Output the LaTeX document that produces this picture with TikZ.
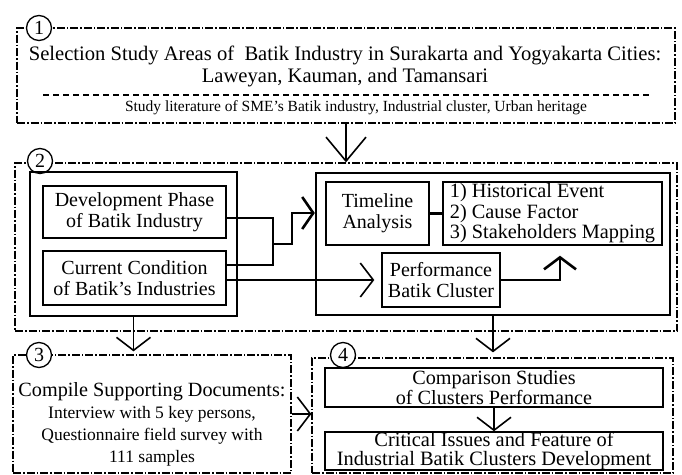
\documentclass[tikz,border=0pt]{standalone}
\usepackage{fontspec}
\setmainfont{Liberation Serif}
\usetikzlibrary{arrows.meta}
\begin{document}
\begin{tikzpicture}[x=1pt,y=-1pt,
  outer/.style={draw, line width=1.3pt, dash pattern=on 8pt off 2pt on 1.5pt off 2pt, inner sep=0pt},
  frame/.style={draw, line width=2.4pt, inner sep=0pt},
  box/.style={draw, line width=1.4pt, inner sep=0pt, align=center, font=\fontsize{20}{21}\selectfont},
  num/.style={circle, draw, fill=white, line width=1.3pt, minimum size=25pt, inner sep=0pt, font=\fontsize{20}{20}\selectfont},
  conn/.style={line width=1.5pt},
  thickconn/.style={line width=2.6pt},
  arr/.style={line width=1.6pt, -{Straight Barb[length=13pt,width=34pt]}},
  bigarr/.style={line width=1.6pt, -{Straight Barb[length=24pt,width=40pt]}}
]
\useasboundingbox (0,0) rectangle (682,474);
% ---------- box 1
\node[outer, minimum width=658pt, minimum height=95pt] (box1) at (346,75.5) {};
\node[num] (n1) at (39,28) {1};
\node[font=\fontsize{20.6}{22}\selectfont, align=center] (title) at (345,66)
  {Selection Study Areas of\ \ Batik Industry in Surakarta and Yogyakarta Cities:\\Laweyan, Kauman, and Tamansari};
\coordinate (sepL) at (43,95);
\coordinate (sepR) at (650,95);
\draw[line width=1.6pt, dash pattern=on 6pt off 4pt] (sepL) -- (sepR);
\node[font=\fontsize{15.5}{17}\selectfont] (lit) at (356,108)
  {Study literature of SME’s Batik industry, Industrial cluster, Urban heritage};
% ---------- box 2
\node[outer, minimum width=662pt, minimum height=168pt] (box2) at (346,247) {};
\node[num] (n2) at (40,161) {2};
\node[frame, minimum width=207pt, minimum height=144pt] (inL) at (133.5,244) {};
\node[box, minimum width=183pt, minimum height=52pt] (dev) at (134.5,212) {Development Phase\\of Batik Industry};
\node[box, minimum width=183pt, minimum height=54pt] (cur) at (134.5,278) {Current Condition\\of Batik’s Industries};
\node[frame, minimum width=354pt, minimum height=142pt] (inR) at (493,244) {};
\node[box, minimum width=103pt, minimum height=63pt] (time) at (377.5,213.5) {Timeline\\Analysis};
\node[box, minimum width=219pt, minimum height=63pt, align=left, font=\fontsize{20.3}{20.5}\selectfont] (list) at (552.5,213.5)
  {1) Historical Event\\2) Cause Factor\\3) Stakeholders Mapping};
\node[box, minimum width=118pt, minimum height=54pt] (perf) at (441,280) {Performance\\Batik Cluster};
% ---------- box 3
\node[outer, minimum width=278pt, minimum height=118pt] (box3) at (152,414) {};
\node[num] (n3) at (39,355) {3};
\node[align=center, font=\fontsize{17.5}{22}\selectfont] (t3) at (152,424)
  {{\fontsize{20.2}{24}\selectfont Compile Supporting Documents:}\\Interview with 5 key persons,\\Questionnaire field survey with\\111 samples};
% ---------- box 4
\node[outer, minimum width=361pt, minimum height=115pt] (box4) at (492.5,415.5) {};
\node[num] (n4) at (343,355) {4};
\node[box, line width=1.3pt, minimum width=338pt, minimum height=39pt, font=\fontsize{20.2}{18.5}\selectfont] (comp) at (494,387.5)
  {Comparison Studies\\of Clusters Performance};
\node[box, line width=1.3pt, minimum width=338pt, minimum height=38pt, font=\fontsize{20.4}{19.5}\selectfont] (crit) at (494,451)
  {Critical Issues and Feature of\\Industrial Batik Clusters Development};
% ---------- connectors
\coordinate (m) at (273,244);
\draw[conn] ([yshift=-6pt]dev.east) -| (m);
\draw[conn] ([yshift=13pt]cur.east) -| (m);
\draw[thickconn, -{Straight Barb[length=11pt,width=32pt]}] (m) -- ++(19,0) |- ([yshift=31pt]inR.west);
\draw[arr, shorten >=7pt] (cur.east |- perf.west) -- (perf.west);
\draw[thickconn] (time.east) -- (list.west);
\draw[thickconn, -{Straight Barb[length=12pt,width=32pt]}, shorten >=10pt] (perf.east) -| ([xshift=7.5pt]list.south);
\draw[bigarr] (box1.south) -- (box2.north);
\draw[arr, shorten >=3pt] (inL.south) -- (inL.south |- box3.north);
\draw[arr, shorten >=5pt] (inR.south) -- (inR.south |- box4.north);
\draw[arr] (box3.east) -- (box3.east -| box4.west);
\draw[arr] (comp.south) -- (crit.north);
\end{tikzpicture}
\end{document}
